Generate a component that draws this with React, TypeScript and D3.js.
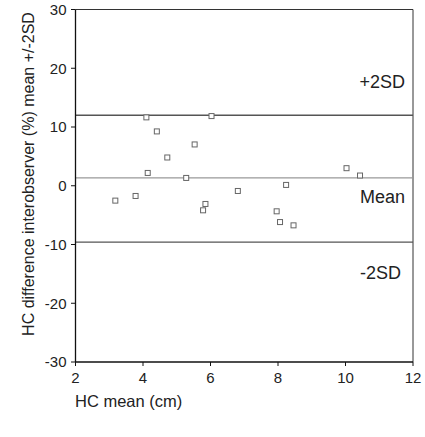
import React from "react";
import * as d3 from "d3";

const xs = [4.10, 4.41, 5.53, 4.72, 4.14, 5.28, 6.03, 10.03, 10.43, 8.24, 6.81, 3.18, 3.78, 5.85, 5.78, 7.96, 8.06, 8.46];
const ys = [11.64, 9.25, 7.03, 4.81, 2.18, 1.33, 11.86, 2.99, 1.74, 0.14, -0.89, -2.53, -1.74, -3.1, -4.18, -4.35, -6.18, -6.74];
const xTicks = [2, 4, 6, 8, 10, 12];
const yTicks = [-30, -20, -10, 0, 10, 20, 30];
const meanVal = 1.33;
const upperVal = 12.0;
const lowerVal = -9.6;
const lineLabels = ["+2SD", "Mean", "-2SD"];

export default function App() {
  const W = 425, H = 437;
  const left = 75.5, right = 413, top = 9.5, bottom = 362;
  const x = d3.scaleLinear().domain([2, 12]).range([left, right]);
  const y = d3.scaleLinear().domain([-30, 30]).range([bottom, top]);
  const font = "Liberation Sans, Arial, sans-serif";
  const tc = "#222";
  return (
    <svg width={W} height={H} style={{ position: "absolute", left: 0, top: 0 }} fontFamily={font}>
      <rect x={0} y={0} width={W} height={H} fill="#fff" />
      {/* frame */}
      <line x1={left} x2={right} y1={top} y2={top} stroke="#333" strokeWidth={1} />
      <line x1={right} x2={right} y1={top} y2={bottom} stroke="#333" strokeWidth={1} />
      {/* reference lines */}
      <line x1={left} x2={right} y1={y(upperVal)} y2={y(upperVal)} stroke="#555" strokeWidth={1.3} />
      <line x1={left} x2={right} y1={y(meanVal)} y2={y(meanVal)} stroke="#999" strokeWidth={1.3} />
      <line x1={left} x2={right} y1={y(lowerVal)} y2={y(lowerVal)} stroke="#555" strokeWidth={1.3} />
      {/* axes */}
      <line x1={left} x2={left} y1={top} y2={bottom} stroke="#111" strokeWidth={1.3} />
      <line x1={left} x2={right} y1={bottom} y2={bottom} stroke="#111" strokeWidth={1.3} />
      {yTicks.map((t) => (
        <g key={"y" + t}>
          <line x1={left - 4.5} x2={left} y1={y(t)} y2={y(t)} stroke="#111" strokeWidth={1} />
          <text x={left - 9} y={y(t) + 5.3} textAnchor="end" fontSize={15} fill={tc}>{t}</text>
        </g>
      ))}
      {xTicks.map((t) => (
        <g key={"x" + t}>
          <line x1={x(t)} x2={x(t)} y1={bottom} y2={bottom + 4} stroke="#111" strokeWidth={1} />
          <text x={x(t)} y={bottom + 21} textAnchor="middle" fontSize={15} fill={tc}>{t}</text>
        </g>
      ))}
      {/* points */}
      {xs.map((v, i) => (
        <rect key={i} x={x(v) - 2.5} y={y(ys[i]) - 2.5} width={5} height={5} fill="#fff" stroke="#666" strokeWidth={1} />
      ))}
      {/* line labels */}
      <text x={405} y={88} textAnchor="end" fontSize={18} fill={tc}>{lineLabels[0]}</text>
      <text x={405} y={203} textAnchor="end" fontSize={18} fill={tc}>{lineLabels[1]}</text>
      <text x={401} y={279} textAnchor="end" fontSize={18} fill={tc}>{lineLabels[2]}</text>
      {/* axis titles */}
      <text x={75} y={407} fontSize={16.5} fill={tc}>HC mean (cm)</text>
      <text transform={`translate(34,174) rotate(-90)`} textAnchor="middle" fontSize={16} fill={tc}>
        HC difference interobserver (%) mean +/-2SD
      </text>
    </svg>
  );
}
